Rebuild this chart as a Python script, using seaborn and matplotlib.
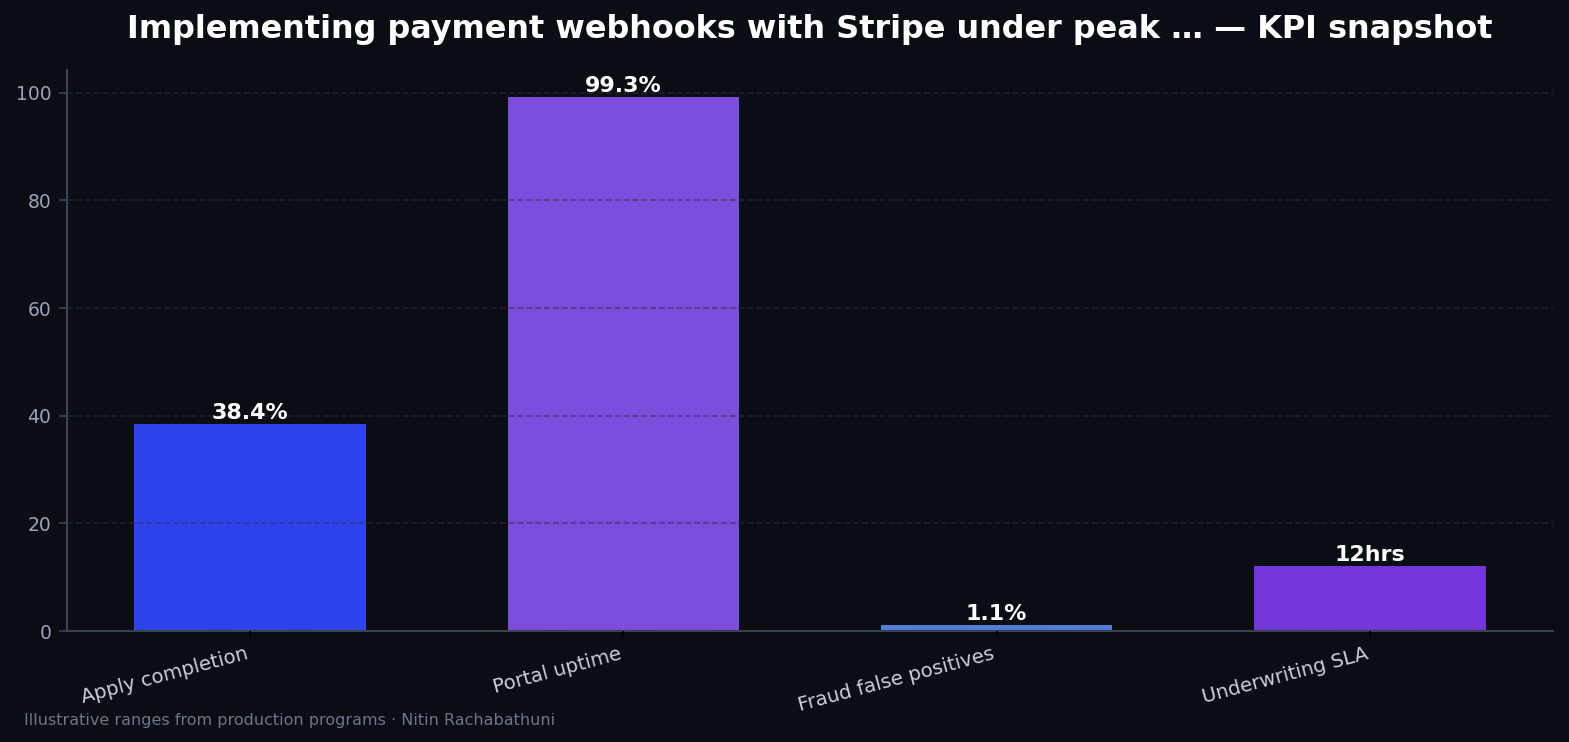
import matplotlib
matplotlib.use("Agg")
import matplotlib.pyplot as plt
import seaborn as sns
import pandas as pd

# data
categories = ["Apply completion", "Portal uptime", "Fraud false positives", "Underwriting SLA"]
values = [38.4, 99.3, 1.1, 12]
labels = ["38.4%", "99.3%", "1.1%", "12hrs"]
colors = ["#2f43ec", "#7d4edd", "#4f7fd8", "#7536d9"]

BG = "#0a0d14"

sns.set_style("dark")
plt.rcParams["font.family"] = ["DejaVu Sans"]

df = pd.DataFrame({"metric": categories, "value": values})

fig = plt.figure(figsize=(10.46, 4.947), dpi=150, facecolor=BG)
ax = fig.add_axes([0.0427, 0.1496, 0.9471, 0.7561])
ax.set_facecolor(BG)

sns.barplot(data=df, x="metric", y="value", hue="metric", palette=colors,
            width=0.62, saturation=1, legend=False, linewidth=0, ax=ax)

for p, lab in zip(ax.patches, labels):
    ax.annotate(lab, (p.get_x() + p.get_width() / 2, p.get_height()),
                xytext=(0, 0.5), textcoords="offset points",
                ha="center", va="bottom", color="white",
                fontsize=10.6, fontweight="bold")

ax.set_xlim(-0.49, 3.49)
ax.set_ylim(0, max(values) * 1.05)
ax.set_yticks([0, 20, 40, 60, 80, 100])
ax.set_xlabel("")
ax.set_ylabel("")

ax.set_axisbelow(False)
ax.grid(axis="y", linestyle="--", color="#2a3040", alpha=0.55, linewidth=0.8)
ax.grid(axis="x", visible=False)

for s in ["top", "right"]:
    ax.spines[s].set_visible(False)
for s in ["left", "bottom"]:
    ax.spines[s].set_visible(True)
    ax.spines[s].set_color("#3a4556")
    ax.spines[s].set_linewidth(1.0)

ax.tick_params(axis="y", colors="#3a4556", labelcolor="#9aa4b8", labelsize=9,
               length=4, left=True)
ax.tick_params(axis="x", colors="black", labelcolor="#c8cfdc", labelsize=9.5,
               length=3, bottom=True)
plt.setp(ax.get_xticklabels(), rotation=15, ha="right")

ax.set_title("Implementing payment webhooks with Stripe under peak … — KPI snapshot",
             color="white", fontsize=15.3, fontweight="bold", pad=15.5)

fig.text(24 / 1569, 1 - 720 / 742,
         "Illustrative ranges from production programs · Nitin Rachabathuni",
         color="#6b7689", fontsize=7.7, va="center", ha="left")

fig.savefig("out.png", dpi=150, facecolor=BG)
